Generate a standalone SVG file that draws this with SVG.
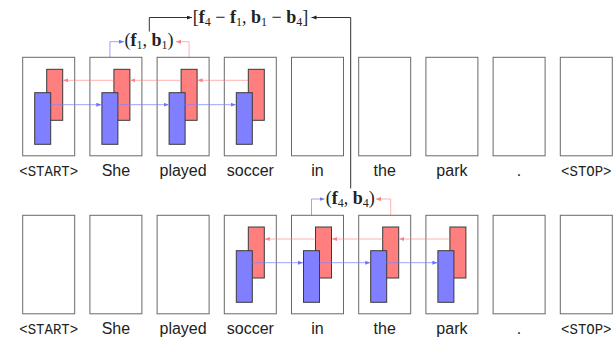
<svg xmlns="http://www.w3.org/2000/svg" width="616" height="339" viewBox="0 0 616 339">
  <style>
    .box { fill: #fff; stroke: #6a6a6a; stroke-width: 1; }
    .fw { fill: #ff7f7f; stroke: #3a3a3a; stroke-width: 1; }
    .bw { fill: #7f7fff; stroke: #3a3a3a; stroke-width: 1; }
    .lbl { font-family: "Liberation Sans", Arial, sans-serif; font-size: 16px; fill: #222; text-anchor: middle; }
    .tt { font-family: "Liberation Mono", "Courier New", monospace; font-size: 14px; fill: #222; text-anchor: middle; }
    .math { font-family: "Liberation Serif", "Times New Roman", serif; font-size: 18px; fill: #222; text-anchor: middle; }
    .math .v { font-weight: bold; }
    .math .s { font-size: 12px; }
    .rl { stroke: #ff8080; stroke-opacity: 0.6; stroke-width: 1; fill: none; }
    .bl { stroke: #8080ff; stroke-opacity: 0.75; stroke-width: 1; fill: none; }
    .kl { stroke: #333; stroke-width: 1; fill: none; }
  </style>
  <defs>
    <marker id="ar" markerUnits="userSpaceOnUse" markerWidth="6" markerHeight="6" refX="5" refY="2" orient="auto">
      <path d="M0,0 L5,2 L0,4 z" fill="#ff8080"/>
    </marker>
    <marker id="ab" markerUnits="userSpaceOnUse" markerWidth="6" markerHeight="6" refX="5" refY="2" orient="auto">
      <path d="M0,0 L5,2 L0,4 z" fill="#7070ff"/>
    </marker>
    <marker id="ak" markerUnits="userSpaceOnUse" markerWidth="6" markerHeight="6" refX="5" refY="2" orient="auto">
      <path d="M0,0 L5,2 L0,4 z" fill="#222"/>
    </marker>
  </defs>

  <!-- vertical taps feeding the pair labels (drawn under the states) -->
  <g id="taps">
    <path class="bl" d="M109.9,92.7 V41.7 H124" marker-end="url(#ab)"/>
    <path class="rl" d="M189.1,69.3 V41.7 H176" marker-end="url(#ar)"/>
    <path class="bl" d="M311.5,250.7 V199 H324.5" marker-end="url(#ab)"/>
    <path class="rl" d="M390.7,227 V199 H376" marker-end="url(#ar)"/>
  </g>

  <!-- top sentence -->
  <g id="top-row">
    <g id="t0"><rect class="box" x="22.7" y="57.3" width="52" height="98.5"/>
      <rect class="fw" x="46.7" y="69.3" width="16" height="51"/>
      <rect class="bw" x="34.7" y="92.7" width="16" height="51.6"/>
      <text class="tt" x="48.7" y="175.5">&lt;START&gt;</text></g>
    <g id="t1"><rect class="box" x="89.9" y="57.3" width="52" height="98.5"/>
      <rect class="fw" x="113.9" y="69.3" width="16" height="51"/>
      <rect class="bw" x="101.9" y="92.7" width="16" height="51.6"/>
      <text class="lbl" x="115.9" y="175.5">She</text></g>
    <g id="t2"><rect class="box" x="157.1" y="57.3" width="52" height="98.5"/>
      <rect class="fw" x="181.1" y="69.3" width="16" height="51"/>
      <rect class="bw" x="169.1" y="92.7" width="16" height="51.6"/>
      <text class="lbl" x="183.1" y="175.5">played</text></g>
    <g id="t3"><rect class="box" x="224.3" y="57.3" width="52" height="98.5"/>
      <rect class="fw" x="248.3" y="69.3" width="16" height="51"/>
      <rect class="bw" x="236.3" y="92.7" width="16" height="51.6"/>
      <text class="lbl" x="250.3" y="175.5">soccer</text></g>
    <g id="t4"><rect class="box" x="291.5" y="57.3" width="52" height="98.5"/>
      <text class="lbl" x="317.5" y="175.5">in</text></g>
    <g id="t5"><rect class="box" x="358.7" y="57.3" width="52" height="98.5"/>
      <text class="lbl" x="384.7" y="175.5">the</text></g>
    <g id="t6"><rect class="box" x="425.9" y="57.3" width="52" height="98.5"/>
      <text class="lbl" x="451.9" y="175.5">park</text></g>
    <g id="t7"><rect class="box" x="493.1" y="57.3" width="52" height="98.5"/>
      <text class="lbl" x="519.1" y="175.5">.</text></g>
    <g id="t8"><rect class="box" x="560.3" y="57.3" width="52" height="98.5"/>
      <text class="tt" x="586.3" y="175.5">&lt;STOP&gt;</text></g>
  </g>

  <!-- bottom sentence -->
  <g id="bottom-row">
    <g id="b0"><rect class="box" x="22.7" y="215.3" width="52" height="98.5"/>
      <text class="tt" x="48.7" y="333.5">&lt;START&gt;</text></g>
    <g id="b1"><rect class="box" x="89.9" y="215.3" width="52" height="98.5"/>
      <text class="lbl" x="115.9" y="333.5">She</text></g>
    <g id="b2"><rect class="box" x="157.1" y="215.3" width="52" height="98.5"/>
      <text class="lbl" x="183.1" y="333.5">played</text></g>
    <g id="b3"><rect class="box" x="224.3" y="215.3" width="52" height="98.5"/>
      <rect class="fw" x="248.3" y="227" width="16" height="51"/>
      <rect class="bw" x="236.3" y="250.7" width="16" height="51.6"/>
      <text class="lbl" x="250.3" y="333.5">soccer</text></g>
    <g id="b4"><rect class="box" x="291.5" y="215.3" width="52" height="98.5"/>
      <rect class="fw" x="315.5" y="227" width="16" height="51"/>
      <rect class="bw" x="303.5" y="250.7" width="16" height="51.6"/>
      <text class="lbl" x="317.5" y="333.5">in</text></g>
    <g id="b5"><rect class="box" x="358.7" y="215.3" width="52" height="98.5"/>
      <rect class="fw" x="382.7" y="227" width="16" height="51"/>
      <rect class="bw" x="370.7" y="250.7" width="16" height="51.6"/>
      <text class="lbl" x="384.7" y="333.5">the</text></g>
    <g id="b6"><rect class="box" x="425.9" y="215.3" width="52" height="98.5"/>
      <rect class="fw" x="449.9" y="227" width="16" height="51"/>
      <rect class="bw" x="437.9" y="250.7" width="16" height="51.6"/>
      <text class="lbl" x="451.9" y="333.5">park</text></g>
    <g id="b7"><rect class="box" x="493.1" y="215.3" width="52" height="98.5"/>
      <text class="lbl" x="519.1" y="333.5">.</text></g>
    <g id="b8"><rect class="box" x="560.3" y="215.3" width="52" height="98.5"/>
      <text class="tt" x="586.3" y="333.5">&lt;STOP&gt;</text></g>
  </g>

  <!-- recurrent connections: forward (blue) and backward (red) -->
  <g id="connectors">
    <line class="bl" x1="50.7" y1="104.7" x2="101.4" y2="104.7" marker-end="url(#ab)"/>
    <line class="bl" x1="117.9" y1="104.7" x2="168.6" y2="104.7" marker-end="url(#ab)"/>
    <line class="bl" x1="185.1" y1="104.7" x2="235.8" y2="104.7" marker-end="url(#ab)"/>
    <line class="rl" x1="113.9" y1="80.3" x2="63.2" y2="80.3" marker-end="url(#ar)"/>
    <line class="rl" x1="181.1" y1="80.3" x2="130.4" y2="80.3" marker-end="url(#ar)"/>
    <line class="rl" x1="248.3" y1="80.3" x2="197.6" y2="80.3" marker-end="url(#ar)"/>

    <line class="bl" x1="252.3" y1="262.7" x2="303" y2="262.7" marker-end="url(#ab)"/>
    <line class="bl" x1="319.5" y1="262.7" x2="370.2" y2="262.7" marker-end="url(#ab)"/>
    <line class="bl" x1="386.7" y1="262.7" x2="437.4" y2="262.7" marker-end="url(#ab)"/>
    <line class="rl" x1="315.5" y1="239" x2="264.8" y2="239" marker-end="url(#ar)"/>
    <line class="rl" x1="382.7" y1="239" x2="332" y2="239" marker-end="url(#ar)"/>
    <line class="rl" x1="449.9" y1="239" x2="399.2" y2="239" marker-end="url(#ar)"/>

    <path class="kl" d="M149.3,31.5 V17.5 H192" marker-end="url(#ak)"/>
    <path class="kl" d="M350.7,188.5 V17.5 H311.5" marker-end="url(#ak)"/>
  </g>

  <!-- span representations -->
  <g id="pair-top">
    <text class="math" x="148.9" y="45.5">(<tspan class="v">f</tspan><tspan class="s" dy="3">1</tspan><tspan dy="-3">, </tspan><tspan class="v">b</tspan><tspan class="s" dy="3">1</tspan><tspan dy="-3">)</tspan></text>
  </g>
  <g id="pair-bottom">
    <text class="math" x="350.3" y="204">(<tspan class="v">f</tspan><tspan class="s" dy="3">4</tspan><tspan dy="-3">, </tspan><tspan class="v">b</tspan><tspan class="s" dy="3">4</tspan><tspan dy="-3">)</tspan></text>
  </g>
  <g id="span-diff">
    <text class="math" x="250.5" y="23">[<tspan class="v">f</tspan><tspan class="s" dy="3">4</tspan><tspan dy="-3"> − </tspan><tspan class="v">f</tspan><tspan class="s" dy="3">1</tspan><tspan dy="-3">, </tspan><tspan class="v">b</tspan><tspan class="s" dy="3">1</tspan><tspan dy="-3"> − </tspan><tspan class="v">b</tspan><tspan class="s" dy="3">4</tspan><tspan dy="-3">]</tspan></text>
  </g>
</svg>
